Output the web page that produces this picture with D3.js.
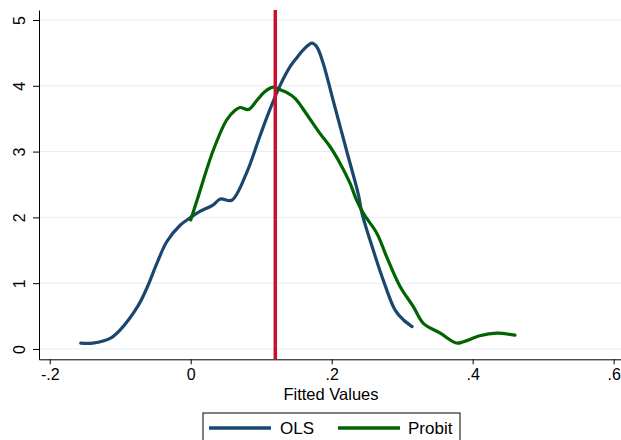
<!DOCTYPE html>
<html lang="en">
	<head>
		<meta charset="utf-8">
		<title>Fitted values density</title>
		<script src="https://d3js.org/d3.v7.min.js" charset="utf-8"></script>
		<style type="text/css">
			body { margin: 0; background: #fff; }
			text { font-family: "Liberation Sans", Arial, sans-serif; fill: #000; }
		</style>
	</head>
	<body>
		<script type="text/javascript">

		// OLS density
		var olsX = [-0.156, -0.139, -0.113, -0.100, -0.075, -0.062, -0.048, -0.034, -0.015, 0.000, 0.013, 0.032, 0.042, 0.058, 0.079, 0.098, 0.112, 0.127, 0.141, 0.150, 0.160, 0.172, 0.179, 0.188, 0.202, 0.221, 0.238, 0.243, 0.259, 0.273, 0.290, 0.302, 0.314];
		var olsY = [0.09, 0.09, 0.17, 0.29, 0.65, 0.93, 1.30, 1.63, 1.88, 2.00, 2.09, 2.19, 2.28, 2.26, 2.67, 3.23, 3.63, 4.01, 4.29, 4.42, 4.55, 4.65, 4.59, 4.34, 3.78, 3.02, 2.34, 2.06, 1.50, 1.05, 0.59, 0.44, 0.34];

		// Probit density
		var probitX = [0.000, 0.009, 0.032, 0.051, 0.063, 0.070, 0.082, 0.094, 0.105, 0.117, 0.127, 0.136, 0.148, 0.165, 0.183, 0.198, 0.212, 0.226, 0.235, 0.245, 0.264, 0.278, 0.297, 0.316, 0.330, 0.354, 0.377, 0.387, 0.410, 0.434, 0.460];
		var probitY = [1.96, 2.26, 3.02, 3.48, 3.63, 3.67, 3.64, 3.78, 3.91, 3.98, 3.94, 3.90, 3.81, 3.56, 3.28, 3.07, 2.82, 2.52, 2.27, 2.06, 1.76, 1.40, 0.95, 0.64, 0.39, 0.24, 0.09, 0.11, 0.20, 0.24, 0.21];

		var refX = 0.12;
		var xTicks = [-0.2, 0, 0.2, 0.4, 0.6];
		var xTickLabels = ["-.2", "0", ".2", ".4", ".6"];
		var yTicks = [0, 1, 2, 3, 4, 5];

		var w = 621, h = 440;
		var svg = d3.select("body").append("svg")
			.attr("width", w)
			.attr("height", h);

		var x = d3.scaleLinear().domain([-0.2152, 0.6104]).range([39, 621]);
		var y = d3.scaleLinear().domain([-0.157, 5.152]).range([359.3, 10]);

		// grid
		svg.append("g").selectAll("line")
			.data(yTicks)
			.enter().append("line")
			.attr("x1", 40).attr("x2", 621)
			.attr("y1", function(d) { return y(d); })
			.attr("y2", function(d) { return y(d); })
			.attr("stroke", "#e6eef2")
			.attr("stroke-width", 1);

		// axes
		var xAxis = d3.axisBottom(x).tickValues(xTicks)
			.tickFormat(function(d, i) { return xTickLabels[i]; })
			.tickSize(5).tickSizeOuter(0);
		var gx = svg.append("g").attr("transform", "translate(0,359.3)").call(xAxis);
		gx.select(".domain").attr("stroke", "#000");
		gx.selectAll(".tick line").attr("stroke", "#000");
		gx.selectAll(".tick text").attr("font-size", 16).attr("y", 6).attr("dy", "0.9em")
			.style("font-family", "Liberation Sans, Arial, sans-serif");

		var yAxis = d3.axisLeft(y).tickValues(yTicks).tickFormat(d3.format("d"))
			.tickSize(6).tickSizeOuter(0);
		var gy = svg.append("g").attr("transform", "translate(39,0)").call(yAxis);
		gy.select(".domain").attr("stroke", "#000");
		gy.selectAll(".tick line").attr("stroke", "#000");
		gy.selectAll(".tick text")
			.attr("font-size", 16)
			.attr("x", 0).attr("dy", 0)
			.attr("text-anchor", "middle")
			.style("font-family", "Liberation Sans, Arial, sans-serif")
			.attr("transform", "translate(-14,0) rotate(-90)");

		svg.append("text")
			.attr("x", 331).attr("y", 400)
			.attr("text-anchor", "middle")
			.attr("font-size", 16.5)
			.text("Fitted Values");

		// curves
		var line = d3.line()
			.x(function(d) { return x(d[0]); })
			.y(function(d) { return y(d[1]); })
			.curve(d3.curveCatmullRom);

		svg.append("path")
			.datum(d3.zip(olsX, olsY))
			.attr("d", line)
			.attr("fill", "none")
			.attr("stroke", "#1a476f")
			.attr("stroke-width", 3.2)
			.attr("stroke-linecap", "round");

		svg.append("path")
			.datum(d3.zip(probitX, probitY))
			.attr("d", line)
			.attr("fill", "none")
			.attr("stroke", "#006400")
			.attr("stroke-width", 3.2)
			.attr("stroke-linecap", "round");

		// reference line
		svg.append("line")
			.attr("x1", x(refX)).attr("x2", x(refX))
			.attr("y1", 10).attr("y2", 359)
			.attr("stroke", "#c8102e")
			.attr("stroke-width", 3.5);

		// legend
		var lg = svg.append("g");
		lg.append("rect")
			.attr("x", 203).attr("y", 413)
			.attr("width", 257).attr("height", 30)
			.attr("fill", "#fff").attr("stroke", "#000");
		var items = [["OLS", "#1a476f", 209, 280], ["Probit", "#006400", 338, 408]];
		items.forEach(function(it) {
			lg.append("line")
				.attr("x1", it[2]).attr("x2", it[2] + 62)
				.attr("y1", 428).attr("y2", 428)
				.attr("stroke", it[1]).attr("stroke-width", 3.5);
			lg.append("text")
				.attr("x", it[3]).attr("y", 434)
				.attr("font-size", 17)
				.text(it[0]);
		});

		</script>
	</body>
</html>
